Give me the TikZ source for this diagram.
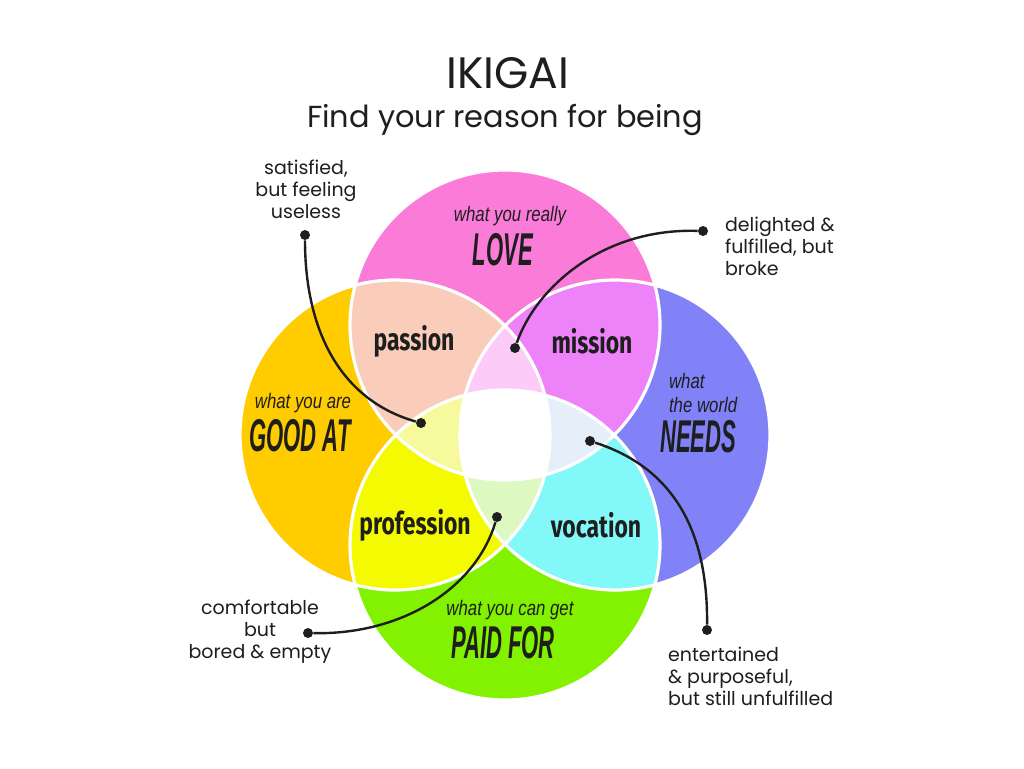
\documentclass[tikz,border=0pt]{standalone}
\usepackage{fontspec}
\setmainfont{Poppins}
\newfontfamily\condfont[FakeStretch=0.74]{Fira Sans}
\newfontfamily\thinfont[FakeStretch=0.8]{Liberation Sans}
\newfontfamily\heavyfont[FakeStretch=0.48]{Liberation Sans}
\usepackage{xcolor}
\usepackage{tikz}
\definecolor{lovec}{HTML}{FB7BD9}
\definecolor{goodc}{HTML}{FFCC00}
\definecolor{needc}{HTML}{8282F8}
\definecolor{paidc}{HTML}{82F200}
\definecolor{passionc}{HTML}{F9CDB9}
\definecolor{missionc}{HTML}{EE82F8}
\definecolor{professionc}{HTML}{F4FA00}
\definecolor{vocationc}{HTML}{82F8F8}
\definecolor{tlrc}{HTML}{FCCBF8}
\definecolor{tlbc}{HTML}{F7FA9C}
\definecolor{trbc}{HTML}{E6EEFA}
\definecolor{lrbc}{HTML}{DDF8C0}
\definecolor{inkc}{HTML}{1E1E1E}
\tikzstyle{ring} = [draw=white, line width=1.6pt]
\tikzstyle{region} = [font=\condfont\bfseries\fontsize{15.5}{18}\selectfont, text=inkc]
\tikzstyle{small} = [font=\thinfont\itshape\fontsize{10.5}{12}\selectfont, text=inkc]
\tikzstyle{big} = [font=\heavyfont\bfseries\itshape\fontsize{23}{25}\selectfont, text=inkc]
\tikzstyle{note} = [font=\fontsize{9.5}{11}\selectfont, align=center, text=inkc]
\tikzstyle{dot} = [circle, fill=inkc, inner sep=0pt, minimum size=5pt]
\tikzstyle{link} = [line width=1.2pt, inkc]

\begin{document}
\begin{tikzpicture}[x=0.5pt, y=-0.5pt]
  \fill[white] (0,0) rectangle (1024,768);
  \useasboundingbox (0,0) rectangle (1024,768);
  \def\rad{77.5pt}

  % Circle centres
  \coordinate (cT) at (505,325);
  \coordinate (cL) at (395,435);
  \coordinate (cR) at (615,435);
  \coordinate (cB) at (505,545);

  % Circles
  \fill[lovec] (cT) circle (\rad);
  \fill[goodc] (cL) circle (\rad);
  \fill[needc] (cR) circle (\rad);
  \fill[paidc] (cB) circle (\rad);

  % Overlaps of two
  \begin{scope}
    \clip (cT) circle (\rad);
    \fill[passionc] (cL) circle (\rad);
    \fill[missionc] (cR) circle (\rad);
  \end{scope}
  \begin{scope}
    \clip (cB) circle (\rad);
    \fill[professionc] (cL) circle (\rad);
    \fill[vocationc] (cR) circle (\rad);
  \end{scope}

  % Overlaps of three
  \begin{scope}
    \clip (cT) circle (\rad); \clip (cL) circle (\rad);
    \fill[tlrc] (cR) circle (\rad);
  \end{scope}
  \begin{scope}
    \clip (cT) circle (\rad); \clip (cL) circle (\rad);
    \fill[tlbc] (cB) circle (\rad);
  \end{scope}
  \begin{scope}
    \clip (cT) circle (\rad); \clip (cR) circle (\rad);
    \fill[trbc] (cB) circle (\rad);
  \end{scope}
  \begin{scope}
    \clip (cL) circle (\rad); \clip (cR) circle (\rad);
    \fill[lrbc] (cB) circle (\rad);
  \end{scope}

  % Centre
  \begin{scope}
    \clip (cT) circle (\rad); \clip (cL) circle (\rad); \clip (cR) circle (\rad);
    \fill[white] (cB) circle (\rad);
  \end{scope}

  % Outlines
  \foreach \c in {cT,cL,cR,cB}
    \draw[ring] (\c) circle (\rad);

  % Title
  \node (title) at (508,73) [font=\fontsize{22}{24}\selectfont, text=inkc] {IKIGAI};
  \node (subtitle) at (505,120) [font=\fontsize{15.2}{17}\selectfont, text=inkc] {Find your reason for being};

  % Circle labels
  \node (love1) at (510,216) [small] {what you really};
  \node (love2) at (503,250) [big] {LOVE};
  \node (good1) at (303,403) [small] {what you are};
  \node (good2) at (300,436) [big] {GOOD AT};
  \node (need1) at (662,393) [small, anchor=west, align=left] {what\\the world};
  \node (need2) at (653,437) [big, anchor=west] {NEEDS};
  \node (paid1) at (510,610) [small] {what you can get};
  \node (paid2) at (503,643) [big] {PAID FOR};

  % Overlap labels
  \node (passion) at (414,341) [region] {passion};
  \node (mission) at (592,341) [region] {mission};
  \node (profession) at (415,525) [region] {profession};
  \node (vocation) at (596,525) [region] {vocation};

  % Notes
  \node (noteA) at (306,189) [note] {satisfied,\\but feeling\\useless};
  \node (noteB) at (718,246) [note, anchor=west, align=left] {delighted \&\\fulfilled, but\\broke};
  \node (noteC) at (260,632) [note] {comfortable\\but\\bored \& empty};
  \node (noteD) at (661,676) [note, anchor=west, align=left] {entertained\\\& purposeful,\\but still unfulfilled};

  % Dots
  \node (dotA) at (305,235) [dot] {};
  \node (dotA2) at (421,423) [dot] {};
  \node (dotB) at (703,231) [dot] {};
  \node (dotB2) at (515,348) [dot] {};
  \node (dotC) at (308,633) [dot] {};
  \node (dotC2) at (497,517) [dot] {};
  \node (dotD) at (707,630) [dot] {};
  \node (dotD2) at (590,441) [dot] {};

  % Links
  \draw[link] (dotA) .. controls (305,330) and (340,400) .. (dotA2);
  \draw[link] (dotB) .. controls (600,228) and (535,290) .. (dotB2);
  \draw[link] (dotC) .. controls (400,635) and (475,590) .. (dotC2);
  \draw[link] (dotD2) .. controls (680,470) and (708,540) .. (dotD);

\end{tikzpicture}
\end{document}
